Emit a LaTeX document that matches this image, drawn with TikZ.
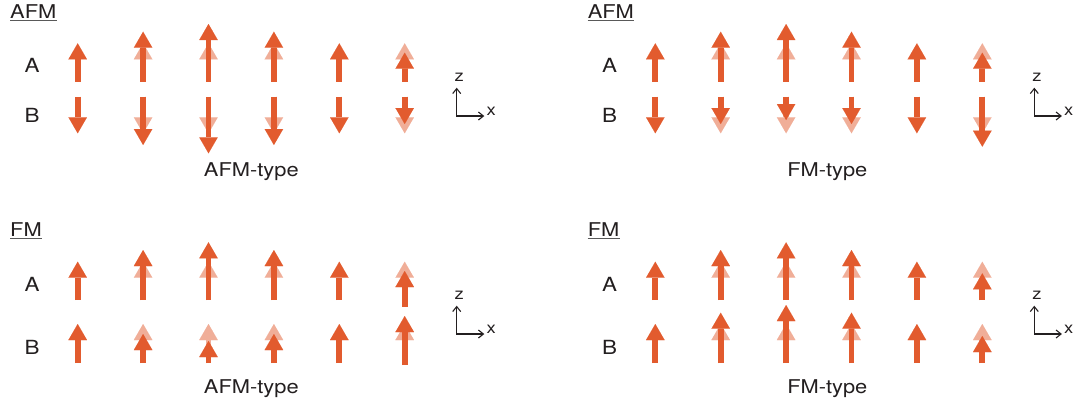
\documentclass[tikz,border=0pt]{standalone}
\usepackage{fontspec}
\setmainfont[FakeStretch=1.15]{TeX Gyre Heros}
\usetikzlibrary{arrows.meta}
\definecolor{spinred}{RGB}{226,91,46}
\definecolor{spinpale}{RGB}{240,174,152}
\definecolor{txtgray}{RGB}{35,31,32}
\begin{document}
\begin{tikzpicture}
  [x=1pt,y=-1pt,
  spin/.style={line width=5.8pt,draw=spinred,-{Triangle[width=18.5pt,length=16pt,line width=0.01pt]}},
  ghost/.style={spin,draw=spinpale},
  axis/.style={line width=1.1pt,draw=txtgray,{Straight Barb[length=5pt,width=8pt]}-{Straight Barb[length=5pt,width=8pt]}},
  every node/.style={text=txtgray,inner sep=0pt},
  title/.style={font=\fontsize{19}{22}\selectfont,anchor=base west},
  uline/.style={line width=0.7pt,draw=black!65},
  row/.style={font=\fontsize{19.5}{22}\selectfont},
  type/.style={font=\fontsize{19}{22}\selectfont,anchor=base},
  axlabel/.style={font=\fontsize{16}{18}\selectfont}]
  \useasboundingbox (0,0) rectangle (1078,408);

  % left half: AFM-type
  \node[title] (t1) at (10,18.3) {AFM};
  \draw[uline] ([yshift=-2.4pt]t1.base west) -- ([yshift=-2.4pt]t1.base east);
  \node[row] (a1) at (32,65.3) {A};
  \node[row] (b1) at (32,115.3) {B};
  \foreach \i in {2,3,4,6} {
    \draw[ghost] (65.4*\i+12.3,81.7) -- (65.4*\i+12.3,43.3);
    \draw[ghost] (65.4*\i+12.3,96.7) -- (65.4*\i+12.3,133.3);
  }
  \foreach \b/\t [count=\i] in {81.7/43.3,81.7/31.7,81.7/24,81.7/31.7,81.7/43.3,81.7/52.7}
    \draw[spin] (65.4*\i+12.3,\b) -- (65.4*\i+12.3,\t);
  \foreach \b/\t [count=\i] in {96.7/133.3,96.7/145,96.7/153.3,96.7/145,96.7/133.3,96.7/124}
    \draw[spin] (65.4*\i+12.3,\b) -- (65.4*\i+12.3,\t);
  \coordinate (o1) at (456.7,116);
  \coordinate (zt1) at (456.7,87.7);
  \coordinate (xt1) at (484.3,116);
  \draw[axis] (zt1) -- (o1) -- (xt1);
  \node[axlabel] (zl1) at (459.3,77.3) {z};
  \node[axlabel] (xl1) at (491.2,111.7) {x};
  \node[type] (ty1) at (251.3,176.7) {AFM-type};

  \node[title] (t2) at (10,236.3) {FM};
  \draw[uline] ([yshift=-2.4pt]t2.base west) -- ([yshift=-2.4pt]t2.base east);
  \node[row] (a2) at (32,284) {A};
  \node[row] (b2) at (32,347.5) {B};
  \foreach \i in {2,3,4,6} {
    \draw[ghost] (65.4*\i+12.3,300) -- (65.4*\i+12.3,261.7);
    \draw[ghost] (65.4*\i+12.3,363) -- (65.4*\i+12.3,324);
  }
  \foreach \b/\t [count=\i] in {300/261.7,300/250,300/242.3,300/250,300/261.7,306.7/271}
    \draw[spin] (65.4*\i+12.3,\b) -- (65.4*\i+12.3,\t);
  \foreach \b/\t [count=\i] in {363/324,363/334,363/341,363/334,363/324,365/316}
    \draw[spin] (65.4*\i+12.3,\b) -- (65.4*\i+12.3,\t);
  \coordinate (o2) at (456.7,334);
  \coordinate (zt2) at (456.7,305.7);
  \coordinate (xt2) at (484.3,334);
  \draw[axis] (zt2) -- (o2) -- (xt2);
  \node[axlabel] (zl2) at (459.3,295) {z};
  \node[axlabel] (xl2) at (491.2,329.7) {x};
  \node[type] (ty2) at (251.3,393.7) {AFM-type};

  % right half: FM-type
  \begin{scope}[xshift=577.6pt]
  \node[title] (t3) at (10,18.3) {AFM};
  \draw[uline] ([yshift=-2.4pt]t3.base west) -- ([yshift=-2.4pt]t3.base east);
  \node[row] (a3) at (32,65.3) {A};
  \node[row] (b3) at (32,115.3) {B};
  \foreach \i in {2,3,4,6} {
    \draw[ghost] (65.4*\i+12.3,81.7) -- (65.4*\i+12.3,43.3);
    \draw[ghost] (65.4*\i+12.3,96.7) -- (65.4*\i+12.3,133.3);
  }
  \foreach \b/\t [count=\i] in {81.7/43.3,81.7/31.7,81.7/24,81.7/31.7,81.7/43.3,81.7/52.7}
    \draw[spin] (65.4*\i+12.3,\b) -- (65.4*\i+12.3,\t);
  \foreach \b/\t [count=\i] in {96.7/133.3,96.7/124,96.7/120,96.7/124,96.7/133.3,96.7/146.7}
    \draw[spin] (65.4*\i+12.3,\b) -- (65.4*\i+12.3,\t);
  \coordinate (o3) at (456.7,116);
  \coordinate (zt3) at (456.7,87.7);
  \coordinate (xt3) at (484.3,116);
  \draw[axis] (zt3) -- (o3) -- (xt3);
  \node[axlabel] (zl3) at (459.3,77.3) {z};
  \node[axlabel] (xl3) at (491.2,111.7) {x};
  \node[type] (ty3) at (249.7,176.7) {FM-type};

  \node[title] (t4) at (10,236.3) {FM};
  \draw[uline] ([yshift=-2.4pt]t4.base west) -- ([yshift=-2.4pt]t4.base east);
  \node[row] (a4) at (32,284) {A};
  \node[row] (b4) at (32,347.5) {B};
  \foreach \i in {2,3,4,6} {
    \draw[ghost] (65.4*\i+12.3,300) -- (65.4*\i+12.3,261.7);
    \draw[ghost] (65.4*\i+12.3,363) -- (65.4*\i+12.3,324);
  }
  \foreach \b/\t [count=\i] in {300/261.7,300/250,300/242.3,300/250,300/261.7,300/273.3}
    \draw[spin] (65.4*\i+12.3,\b) -- (65.4*\i+12.3,\t);
  \foreach \b/\t [count=\i] in {363/324,363/312.7,363/305,363/312.7,363/324,363/336}
    \draw[spin] (65.4*\i+12.3,\b) -- (65.4*\i+12.3,\t);
  \coordinate (o4) at (456.7,334);
  \coordinate (zt4) at (456.7,305.7);
  \coordinate (xt4) at (484.3,334);
  \draw[axis] (zt4) -- (o4) -- (xt4);
  \node[axlabel] (zl4) at (459.3,295) {z};
  \node[axlabel] (xl4) at (491.2,329.7) {x};
  \node[type] (ty4) at (249.7,393.7) {FM-type};
  \end{scope}
\end{tikzpicture}
\end{document}
